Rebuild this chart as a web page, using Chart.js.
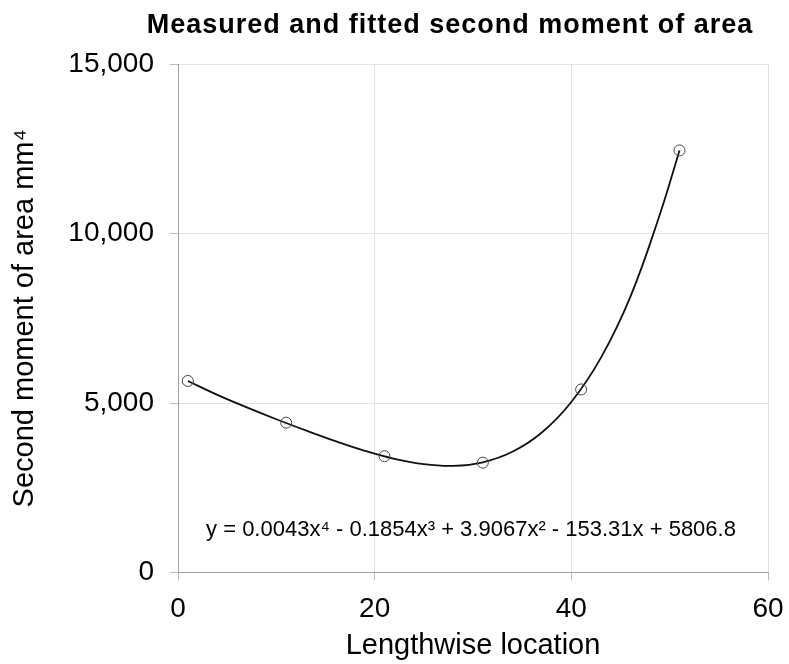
<!DOCTYPE html>
<html>
<head>
<meta charset="utf-8">
<script src="https://cdn.jsdelivr.net/npm/chart.js@4"></script>
<style>
  html, body { margin: 0; padding: 0; background: #ffffff; }
  #c { display: block; }
</style>
</head>
<body>
<canvas id="c" width="789" height="664"></canvas>
<script>
// ---- data ----
const chartTitle = "Measured and fitted second moment of area";
const xAxisTitle = "Lengthwise location";
const yAxisTitle = "Second moment of area mm\u2074";
const equationText = "y = 0.0043x\u2074 - 0.1854x\u00B3 + 3.9067x\u00B2 - 153.31x + 5806.8";

// measured points
const measuredX = [1, 11, 21, 31, 41, 51];
const measuredY = [5650, 4420, 3430, 3240, 5400, 12450];

// fitted trend line
const fittedX = [1, 4, 7, 10, 13, 16, 19, 22, 25, 28, 31, 34, 37, 40, 43, 46, 49, 51];
const fittedY = [5650, 5240, 4870, 4520, 4190, 3875, 3590, 3355, 3195, 3145, 3250, 3560, 4130, 5030, 6330, 8130, 10560, 12450];

// axis ticks
const xTicks = [0, 20, 40, 60];
const yTicks = [0, 5000, 10000, 15000];

// ---- build library structures ----
const measuredData = measuredX.map((x, i) => ({ x: x, y: measuredY[i] }));
const fittedData = fittedX.map((x, i) => ({ x: x, y: fittedY[i] }));

const FONT = '"Liberation Sans", Arial, Helvetica, sans-serif';

const textPlugin = {
  id: 'textPlugin',
  afterDraw(chart) {
    const ctx = chart.ctx;
    const area = chart.chartArea;
    const ys = chart.scales.y;
    ctx.save();
    // chart title
    ctx.fillStyle = '#000000';
    ctx.font = 'bold 27px ' + FONT;
    ctx.textAlign = 'center';
    ctx.textBaseline = 'alphabetic';
    try { ctx.letterSpacing = '1px'; } catch (e) {}
    ctx.fillText(chartTitle, 450, 33);
    try { ctx.letterSpacing = '0px'; } catch (e) {}
    // trend-line equation
    ctx.font = '22px ' + FONT;
    ctx.fillText(equationText, (area.left + area.right) / 2 - 2, ys.getPixelForValue(1080));
    ctx.restore();
  }
};

new Chart(document.getElementById('c'), {
  type: 'scatter',
  data: {
    datasets: [
      {
        label: 'Measured',
        data: measuredData,
        showLine: false,
        pointRadius: 5.5,
        pointHoverRadius: 5.5,
        pointBorderWidth: 1,
        pointBorderColor: '#444444',
        pointBackgroundColor: 'rgba(255,255,255,0)',
        borderColor: '#444444',
        backgroundColor: 'rgba(255,255,255,0)'
      },
      {
        label: 'Fitted',
        data: fittedData,
        showLine: true,
        pointRadius: 0,
        pointHoverRadius: 0,
        borderColor: '#111111',
        borderWidth: 1.8,
        tension: 0.4,
        fill: false
      }
    ]
  },
  options: {
    responsive: false,
    animation: false,
    locale: 'en-US',
    layout: { padding: { top: 64, right: 21, left: 0, bottom: 0 } },
    plugins: {
      legend: { display: false },
      tooltip: { enabled: false },
      title: { display: false }
    },
    scales: {
      x: {
        type: 'linear',
        min: xTicks[0],
        max: xTicks[xTicks.length - 1],
        afterBuildTicks(scale) { scale.ticks = xTicks.map(v => ({ value: v })); },
        afterFit(scale) {
          scale.height = 91.5;
          scale.paddingLeft = 0;
          scale.paddingRight = 0;
        },
        ticks: {
          color: '#000000',
          font: { family: FONT, size: 28 },
          padding: 12,
          maxRotation: 0
        },
        grid: {
          color: '#e3e3e3',
          lineWidth: 1,
          tickLength: 8,
          tickColor: '#bdbdbd'
        },
        border: { color: '#a0a0a0', width: 1 },
        title: {
          display: true,
          text: xAxisTitle,
          color: '#000000',
          font: { family: FONT, size: 29 },
          padding: { top: 0, bottom: 1 }
        }
      },
      y: {
        type: 'linear',
        min: yTicks[0],
        max: yTicks[yTicks.length - 1],
        afterBuildTicks(scale) { scale.ticks = yTicks.map(v => ({ value: v })); },
        afterFit(scale) { scale.width = 178; },
        ticks: {
          color: '#000000',
          font: { family: FONT, size: 28 },
          padding: 16,
          callback: (v) => Number(v).toLocaleString('en-US')
        },
        grid: {
          color: '#e3e3e3',
          lineWidth: 1,
          tickLength: 8,
          tickColor: '#bdbdbd'
        },
        border: { color: '#a0a0a0', width: 1 },
        title: {
          display: true,
          text: yAxisTitle,
          color: '#000000',
          font: { family: FONT, size: 29 },
          padding: { top: 8, bottom: 0 }
        }
      }
    }
  },
  plugins: [textPlugin]
});
</script>
</body>
</html>
